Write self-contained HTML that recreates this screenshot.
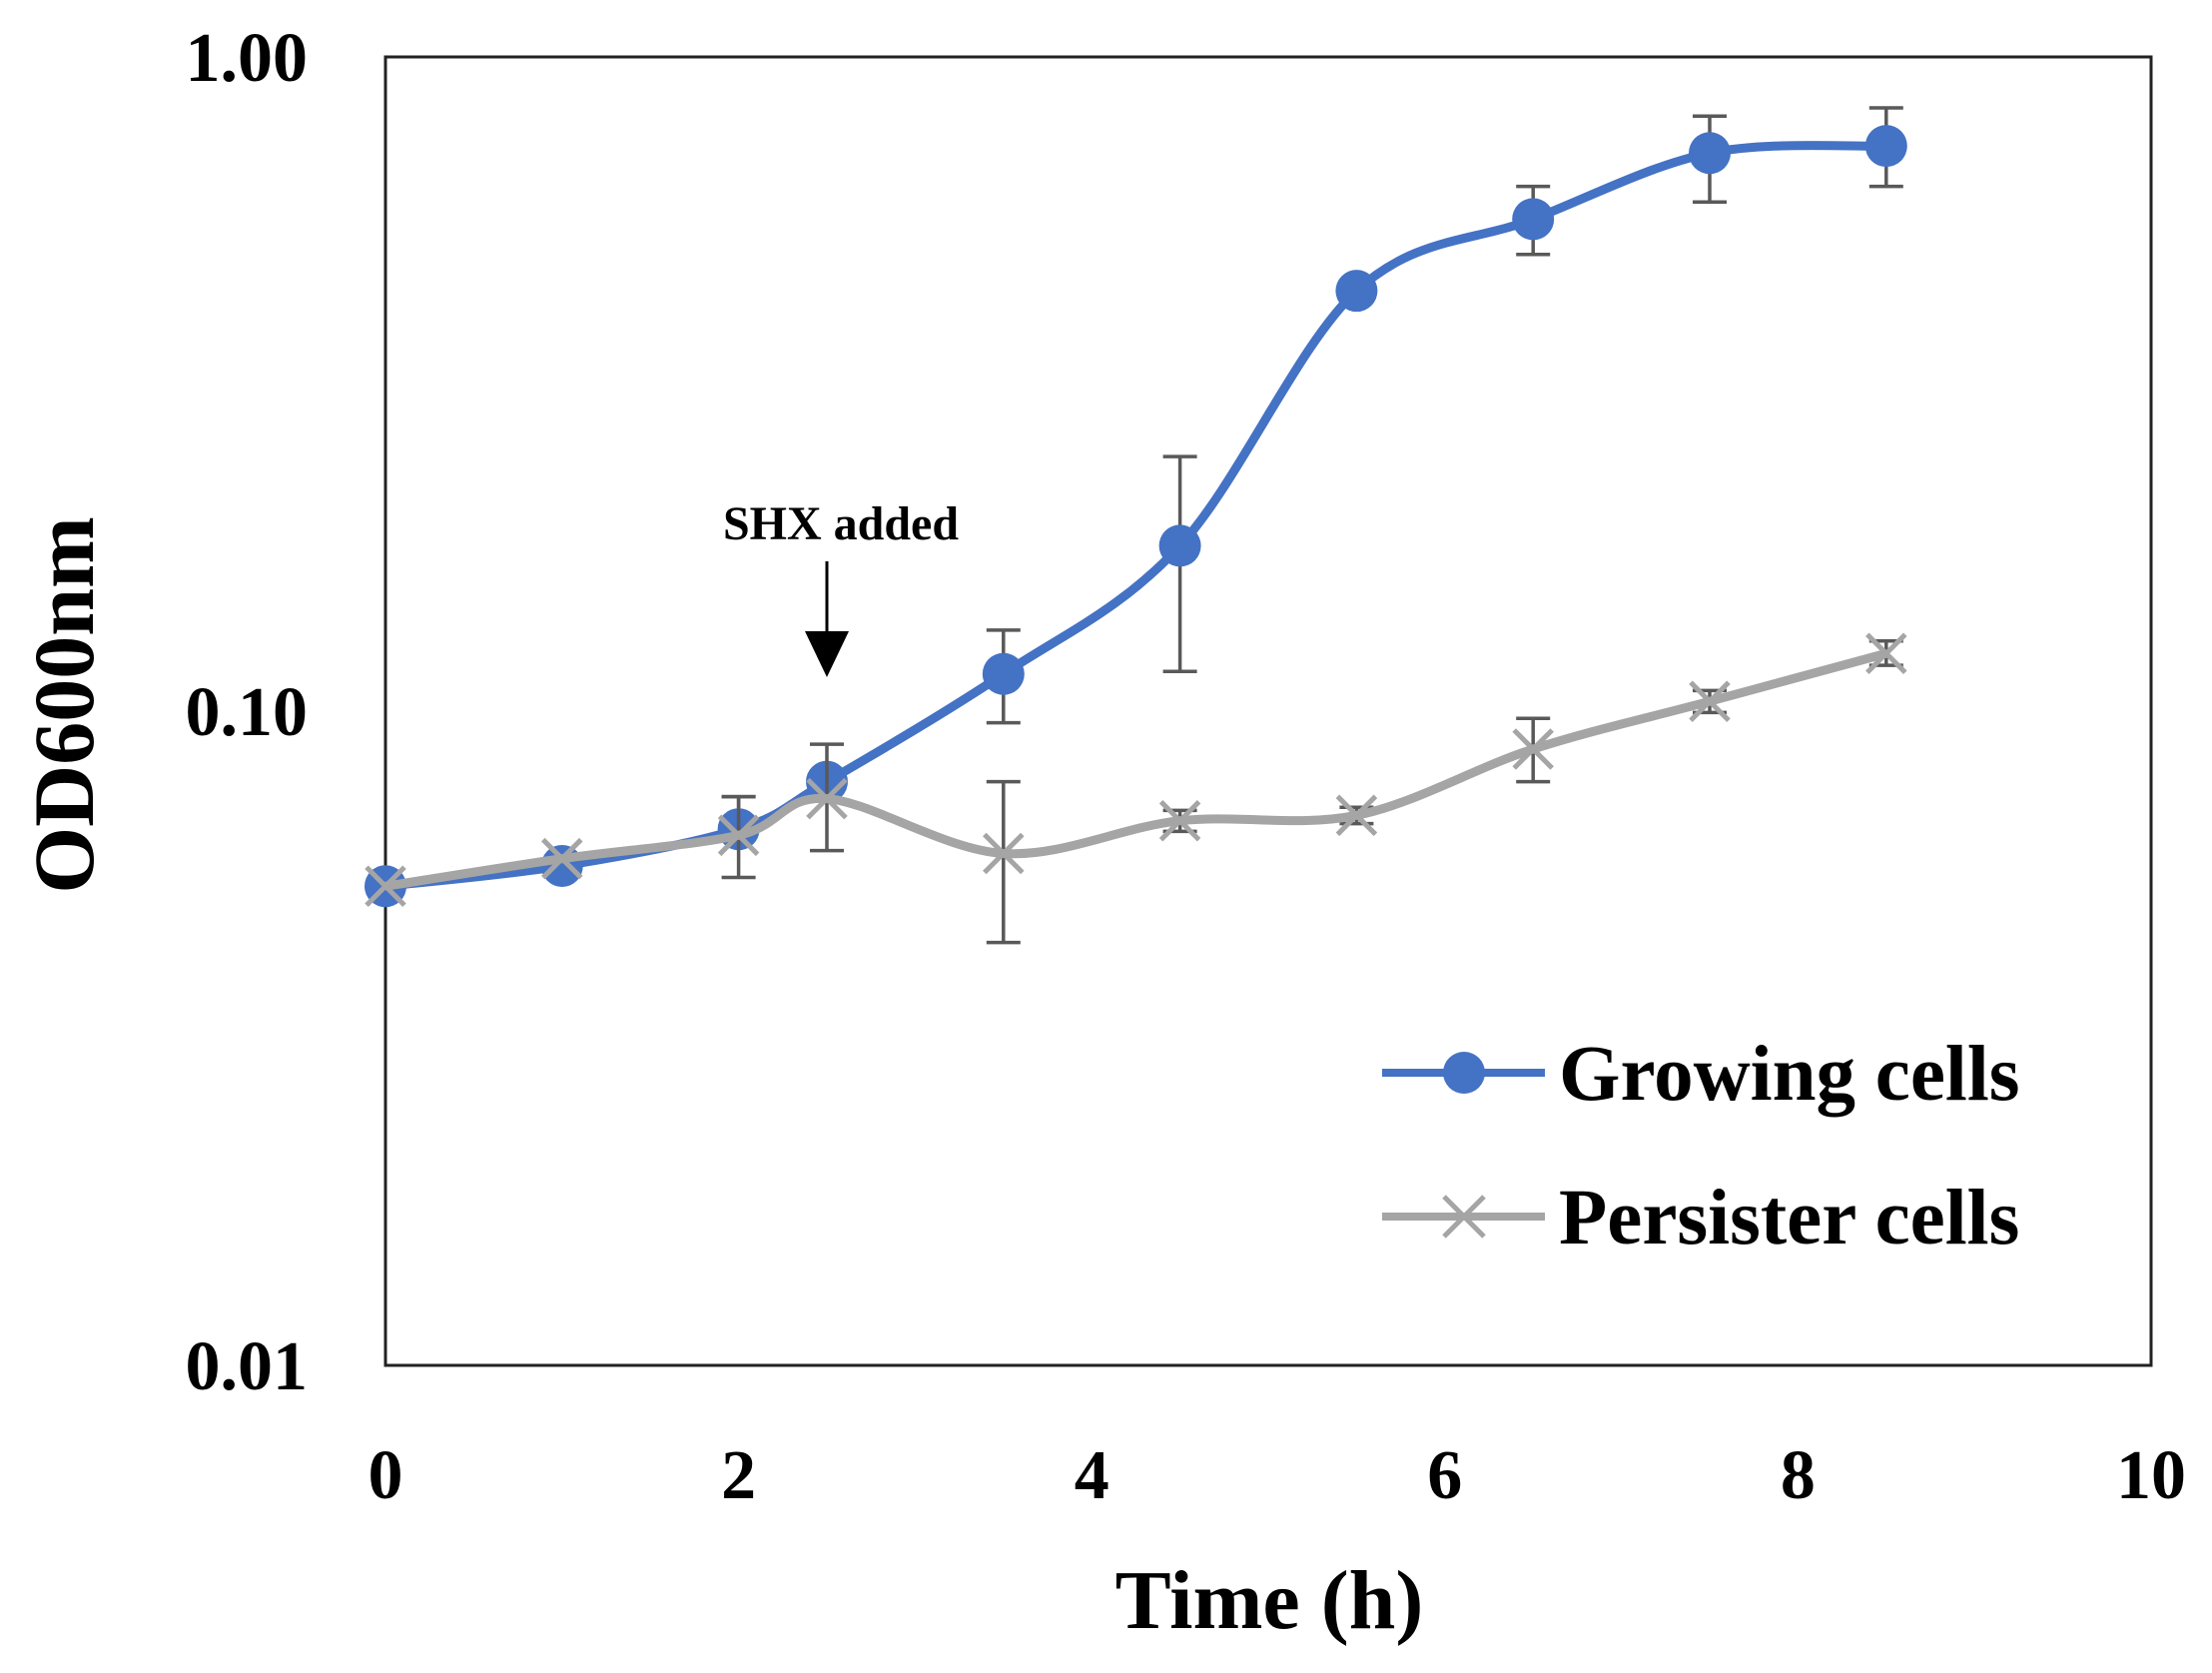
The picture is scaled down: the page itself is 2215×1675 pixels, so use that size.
<!DOCTYPE html>
<html><head><meta charset="utf-8"><style>
html,body{margin:0;padding:0;background:#fff;}
svg{display:block;}
text{font-family:"Liberation Serif",serif;font-weight:bold;fill:#000;}
</style></head><body>
<svg id="chart" width="2215" height="1675">
<rect x="386" y="57" width="1768" height="1310" fill="#fff" stroke="#222" stroke-width="3"/>
<g id="ticks"></g>
<g id="series"></g>
<text x="64" y="706" font-size="86" text-anchor="middle" dominant-baseline="central" transform="rotate(-90 64 706)">OD600nm</text>
<text x="1271" y="1630" font-size="84" text-anchor="middle">Time (h)</text>
<text x="842" y="540" font-size="48" text-anchor="middle">SHX added</text>
<g>
<line x1="828" y1="562" x2="828" y2="640" stroke="#000" stroke-width="3"/>
<polygon points="806,632 850,632 828,678" fill="#000"/>
</g>
<g>
<g>
<line x1="1384" y1="1074" x2="1547" y2="1074" stroke="#4472C4" stroke-width="8"/>
<circle cx="1466" cy="1074" r="21" fill="#4472C4"/>
<text x="1561" y="1101" font-size="79">Growing cells</text>
</g>
<g>
<line x1="1384" y1="1218" x2="1547" y2="1218" stroke="#A5A5A5" stroke-width="8"/>
<path d="M1446,1198 L1486,1238 M1486,1198 L1446,1238" stroke="#A5A5A5" stroke-width="5"/>
<text x="1561" y="1245" font-size="79">Persister cells</text>
</g>
</g>
</svg>
<script>
const times = [0, 1, 2, 2.5, 3.5, 4.5, 5.5, 6.5, 7.5, 8.5];
const growing = [0.054, 0.058, 0.066, 0.078, 0.114, 0.179, 0.439, 0.565, 0.713, 0.731];
const growingHi = [0.054, 0.058, 0.074, 0.081, 0.133, 0.245, 0.439, 0.634, 0.812, 0.836];
const growingLo = [0.054, 0.058, 0.066, 0.078, 0.096, 0.115, 0.439, 0.499, 0.600, 0.634];
const persister = [0.054, 0.0595, 0.0646, 0.0735, 0.0606, 0.068, 0.0693, 0.0875, 0.1035, 0.1225];
const persisterHi = [0.054, 0.0595, 0.074, 0.089, 0.078, 0.0705, 0.0713, 0.0975, 0.1075, 0.128];
const persisterLo = [0.054, 0.0595, 0.0557, 0.0612, 0.0443, 0.0655, 0.0673, 0.078, 0.0995, 0.1175];
const xTicks = [0, 2, 4, 6, 8, 10];
const yTicks = [1, 0.1, 0.01];
const yTickLabels = ["1.00", "0.10", "0.01"];

const NS = "http://www.w3.org/2000/svg";
const X0 = 386, X1 = 2154, Y0 = 57, Y1 = 1367;
function xs(t){ return X0 + (t - 0) / 10 * (X1 - X0); }
function ys(v){ return Y0 + (0 - Math.log10(v)) / 2 * (Y1 - Y0); }
function mk(tag, attrs, parent){
  const e = document.createElementNS(NS, tag);
  for (const k in attrs) e.setAttribute(k, attrs[k]);
  parent.appendChild(e);
  return e;
}
const tickG = document.getElementById('ticks');
xTicks.forEach(t => {
  const e = mk('text', {x: xs(t), y: 1500, 'font-size': 70, 'text-anchor': 'middle'}, tickG);
  e.textContent = t;
  
  
});
yTicks.forEach((v, i) => {
  const e = mk('text', {x: 308, y: ys(v) + 24, 'font-size': 70, 'text-anchor': 'end'}, tickG);
  e.textContent = yTickLabels[i];
  
  
});

function smoothPath(pts){
  let d = 'M' + pts[0][0] + ',' + pts[0][1];
  for (let i = 0; i < pts.length - 1; i++){
    const p0 = pts[Math.max(0, i - 1)], p1 = pts[i], p2 = pts[i + 1], p3 = pts[Math.min(pts.length - 1, i + 2)];
    const c1x = p1[0] + (p2[0] - p0[0]) / 6, c1y = p1[1] + (p2[1] - p0[1]) / 6;
    const c2x = p2[0] - (p3[0] - p1[0]) / 6, c2y = p2[1] - (p3[1] - p1[1]) / 6;
    d += ' C' + c1x + ',' + c1y + ' ' + c2x + ',' + c2y + ' ' + p2[0] + ',' + p2[1];
  }
  return d;
}
const sg = document.getElementById('series');
function drawErr(vals, hi, lo, name){
  const g = mk('g', {}, sg);
  
  
  times.forEach((t, i) => {
    if (hi[i] === lo[i]) return;
    const x = xs(t), a = ys(hi[i]), b = ys(lo[i]);
    mk('path', {d: `M${x},${a} L${x},${b} M${x-17},${a} L${x+17},${a} M${x-17},${b} L${x+17},${b}`, stroke: '#595959', 'stroke-width': 3.5, fill: 'none'}, g);
  });
}
drawErr(growing, growingHi, growingLo, 'growing-error-bars');
const gp = times.map((t, i) => [xs(t), ys(growing[i])]);
const gl = mk('path', {d: smoothPath(gp), stroke: '#4472C4', 'stroke-width': 9, fill: 'none'}, sg);


gp.forEach(p => {
  const c = mk('circle', {cx: p[0], cy: p[1], r: 21, fill: '#4472C4'}, sg);
  
  
});
drawErr(persister, persisterHi, persisterLo, 'persister-error-bars');
const pp = times.map((t, i) => [xs(t), ys(persister[i])]);
const pl = mk('path', {d: smoothPath(pp), stroke: '#A5A5A5', 'stroke-width': 9, fill: 'none'}, sg);


pp.forEach(p => {
  const x = p[0], y = p[1];
  const m = mk('path', {d: `M${x-19},${y-19} L${x+19},${y+19} M${x+19},${y-19} L${x-19},${y+19}`, stroke: '#A5A5A5', 'stroke-width': 5}, sg);
  
  
});
</script>
</body></html>
